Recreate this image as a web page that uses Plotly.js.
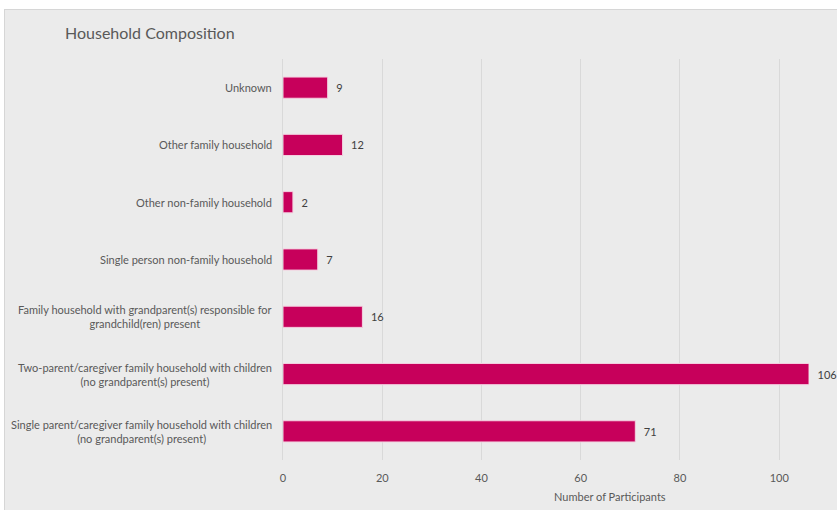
<!DOCTYPE html>
<html>
<head>
<meta charset="utf-8">
<script src="https://cdn.plot.ly/plotly-3.0.1.min.js"></script>
<style>
html,body{margin:0;padding:0;background:#ffffff;width:837px;height:510px;overflow:hidden;}
#wrap{position:absolute;left:4px;top:9px;width:833px;height:501px;border-top:1px solid #d6d6d6;border-left:1px solid #d6d6d6;background:#ebebeb;}
#chart{width:832px;height:500px;}
</style>
</head>
<body>
<div id="wrap"><div id="chart"></div></div>
<script>
var categories = [
  "Unknown",
  "Other family household",
  "Other non-family household",
  "Single person non-family household",
  "Family household with grandparent(s) responsible for<br>grandchild(ren) present",
  "Two-parent/caregiver family household with children<br>(no grandparent(s) present)",
  "Single parent/caregiver family household with children<br>(no grandparent(s) present)"
];
var participants = [9, 12, 2, 7, 16, 106, 71];
var xTicks = [0, 20, 40, 60, 80, 100];

var font = "Lato, 'Open Sans', sans-serif";
var trace = {
  type: 'bar',
  orientation: 'h',
  y: categories,
  x: participants,
  text: participants.map(function (v) { return '\u2002' + v; }),
  textposition: 'outside',
  cliponaxis: false,
  textfont: {family: font, size: 11, color: '#404040'},
  marker: {color: '#c7005b', line: {color: '#f4d0e0', width: 1}},
  hoverinfo: 'none'
};
var annotations = categories.map(function (c) {
  return {
    text: c, xref: 'paper', yref: 'y', x: 0, y: c,
    xanchor: 'right', yanchor: 'middle', align: 'center', xshift: -9,
    showarrow: false,
    font: {family: font, size: 11, color: '#595959'}
  };
});
annotations.push({
  text: 'Number of Participants',
  xref: 'paper', yref: 'paper',
  x: (610 - 283) / 526, y: -37/401,
  xanchor: 'center', yanchor: 'middle',
  showarrow: false,
  font: {family: font, size: 11, color: '#595959'}
});
var layout = {
  width: 832, height: 500,
  margin: {l: 278, r: 28, t: 49, b: 50},
  paper_bgcolor: '#ebebeb',
  plot_bgcolor: '#ebebeb',
  bargap: 0.63,
  showlegend: false,
  font: {family: font, color: '#595959'},
  xaxis: {
    range: [0, 106],
    tickvals: xTicks,
    ticktext: xTicks.map(String),
    showgrid: true, gridcolor: '#d9d9d9', gridwidth: 1,
    zeroline: false, showline: false,
    ticks: 'outside', ticklen: 8, tickcolor: 'rgba(0,0,0,0)',
    tickfont: {family: font, size: 11, color: '#595959'},
    fixedrange: true
  },
  yaxis: {
    autorange: 'reversed',
    showline: true, linecolor: '#d9d9d9', linewidth: 1,
    showgrid: false, zeroline: false,
    showticklabels: false,
    fixedrange: true
  },
  title: {
    text: 'Household Composition',
    font: {family: font, size: 16, color: '#595959'},
    xref: 'container', yref: 'container',
    x: 60/832, xanchor: 'left', y: 1 - 23/500, yanchor: 'middle'
  },
  annotations: annotations
};
Plotly.newPlot('chart', [trace], layout, {displayModeBar: false, staticPlot: true});
</script>
</body>
</html>
